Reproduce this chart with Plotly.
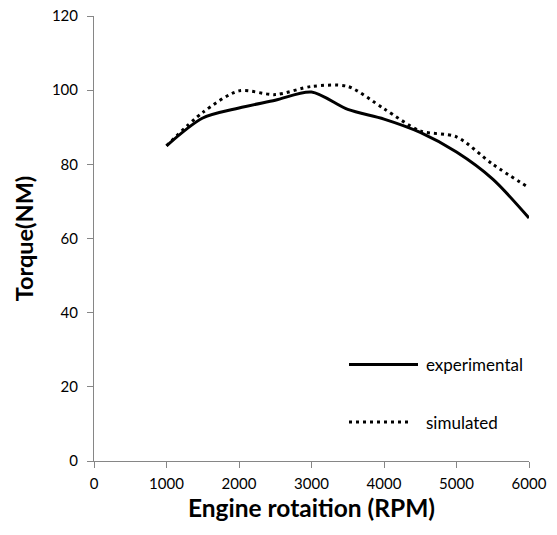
import plotly.graph_objects as go

rpm = [1000, 1500, 2000, 2500, 3000, 3500, 4000, 4500, 5000, 5500, 6000]
experimental = [85.0, 92.5, 95.2, 97.3, 99.5, 94.8, 92.2, 88.6, 83.3, 76.0, 65.5]
simulated = [85.0, 94.0, 99.8, 98.8, 101.0, 101.0, 95.0, 89.0, 87.4, 80.0, 73.7]
series_names = ["experimental", "simulated"]

axis_color = "#868686"
font_family = "Lato, 'Open Sans', sans-serif"

fig = go.Figure()
fig.add_trace(go.Scatter(x=rpm, y=experimental, mode="lines", name=series_names[0],
                         line=dict(color="black", width=3, shape="spline", smoothing=0.8)))
fig.add_trace(go.Scatter(x=rpm, y=simulated, mode="lines", name=series_names[1],
                         line=dict(color="black", width=3, dash="3px,4px", shape="spline", smoothing=0.8)))

# body margin is removed in the page, so layout is in screen pixels
W, H = 557, 535
L, R, T, B = 94, 28, 16, 74
pw, ph = W - L - R, H - T - B
def px(xs): return (xs - L) / pw
def py(ys): return (H - B - ys) / ph

fig.add_shape(type="line", xref="paper", yref="paper", x0=px(349), x1=px(418), y0=py(364.5), y1=py(364.5),
              line=dict(color="black", width=3))
fig.add_shape(type="line", xref="paper", yref="paper", x0=px(349), x1=px(412), y0=py(422), y1=py(422),
              line=dict(color="black", width=3, dash="3px,4px"))
fig.add_annotation(xref="paper", yref="paper", x=px(424), y=py(364.5), text=series_names[0], showarrow=False,
                   xanchor="left", yanchor="middle", font=dict(family=font_family, size=17, color="black"))
fig.add_annotation(xref="paper", yref="paper", x=px(424), y=py(422), text=series_names[1], showarrow=False,
                   xanchor="left", yanchor="middle", font=dict(family=font_family, size=17, color="black"))

fig.update_layout(
    width=W, height=H,
    margin=dict(l=L, r=R, t=T, b=B, autoexpand=False),
    paper_bgcolor="white", plot_bgcolor="white",
    showlegend=False,
    font=dict(family=font_family, size=15, color="black"),
    xaxis=dict(range=[0, 6000], tickvals=[0, 1000, 2000, 3000, 4000, 5000, 6000], automargin=False,
               showgrid=False, zeroline=False, showline=True, linecolor=axis_color, linewidth=1,
               ticks="outside", tickcolor=axis_color, ticklen=6, ticklabelstandoff=3,
               ticklabeloverflow="allow",
               tickfont=dict(family=font_family, size=15),
               title=dict(text="<b>Engine rotaition (RPM)</b>", font=dict(family=font_family, size=24.5), standoff=8)),
    yaxis=dict(range=[0, 120], tickvals=[0, 20, 40, 60, 80, 100, 120], automargin=False,
               showgrid=False, zeroline=False, showline=True, linecolor=axis_color, linewidth=1,
               ticks="outside", tickcolor=axis_color, ticklen=6, ticklabelstandoff=6,
               ticklabeloverflow="allow",
               tickfont=dict(family=font_family, size=15),
               title=dict(text="<b>Torque(NM)</b>", font=dict(family=font_family, size=23.5), standoff=11)),
)

fig.write_html("out.html", config={"displayModeBar": False},
               post_script="document.body.style.margin='0';")
